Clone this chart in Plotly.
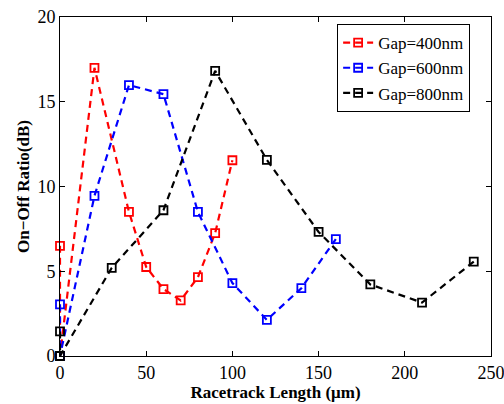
import plotly.graph_objects as go

x400 = [0, 0, 20, 40, 50, 60, 70, 80, 90, 100]
y400 = [6.5, 0, 17.0, 8.5, 5.25, 3.95, 3.28, 4.65, 7.25, 11.55]

x600 = [0, 0, 20, 40, 60, 80, 100, 120, 140, 160]
y600 = [3.05, 0, 9.45, 15.98, 15.45, 8.5, 4.3, 2.13, 4.0, 6.9]

x800 = [0, 0, 30, 60, 90, 120, 150, 180, 210, 240]
y800 = [1.45, 0, 5.2, 8.6, 16.82, 11.57, 7.32, 4.22, 3.15, 5.57]

series = [
    ("Gap=400nm", x400, y400, "#ff0000"),
    ("Gap=600nm", x600, y600, "#0000ff"),
    ("Gap=800nm", x800, y800, "#000000"),
]

fig = go.Figure()
for name, xs, ys, col in series:
    fig.add_trace(go.Scatter(
        x=xs, y=ys, name=name, mode="lines+markers",
        line=dict(color=col, width=2.2, dash="7px,5px"),
        marker=dict(symbol="square-open", size=8, color=col, line=dict(width=1.8, color=col)),
        cliponaxis=False,
    ))

font = "Liberation Serif, Times New Roman, serif"
axis_common = dict(
    showline=True, linecolor="black", linewidth=1, mirror="ticks",
    ticks="inside", ticklen=5, tickcolor="black", showgrid=False, zeroline=False,
    tickfont=dict(family=font, size=18, color="black"), automargin=False,
    ticklabeloverflow="allow",
)
fig.update_layout(
    width=504, height=404,
    margin=dict(l=60, r=13, t=17, b=48),
    paper_bgcolor="white", plot_bgcolor="white",
    font=dict(family=font, color="black"),
    xaxis=dict(range=[0, 250], tickvals=[0, 50, 100, 150, 200, 250],
               title=dict(text="<b>Racetrack Length (μm)</b>", font=dict(family=font, size=17), standoff=0),
               **axis_common),
    yaxis=dict(range=[0, 20], tickvals=[0, 5, 10, 15, 20],
               title=dict(text="<b>On−Off Ratio(dB)</b>", font=dict(family=font, size=17), standoff=3),
               **axis_common),
    legend=dict(x=0.643, y=0.979, xanchor="left", yanchor="top",
                bgcolor="white", bordercolor="black", borderwidth=1,
                font=dict(family=font, size=17), tracegroupgap=0, itemwidth=30,
                entrywidth=105),
    showlegend=True,
)
fig.write_html("out.html", config={"displayModeBar": False},
               post_script="document.body.style.margin='0';document.body.style.overflow='hidden';")
